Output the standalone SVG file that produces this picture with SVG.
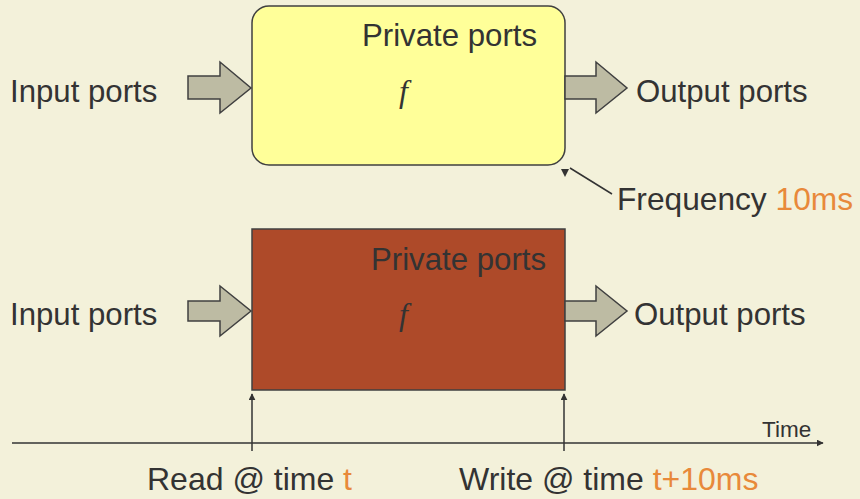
<svg xmlns="http://www.w3.org/2000/svg" width="860" height="499" viewBox="0 0 860 499">
<style>
.t{font-family:"Liberation Sans",Arial,sans-serif;font-size:32px;fill:#333333}
.o{fill:#E8893A}
.f{font-family:"Liberation Serif","Times New Roman",serif;font-style:italic;font-size:32px;fill:#333333}
.arr{fill:#BDBBA3;stroke:#404040;stroke-width:1.5;stroke-linejoin:miter}
.ln{stroke:#333333;stroke-width:1.5;fill:none}
</style>
<defs>
<marker id="ah" viewBox="0 0 10 10" refX="9" refY="5" markerWidth="7" markerHeight="7" orient="auto" markerUnits="userSpaceOnUse">
<path d="M0,0 L10,5 L0,10 Z" fill="#333333"/>
</marker>
</defs>
<rect width="860" height="499" fill="#F3F1DA"/>
<g id="top-node">
<rect x="252" y="6" width="313" height="159" rx="17" fill="#FFFF99" stroke="#404040" stroke-width="1.5"/>
<text class="t" x="362" y="46" style="font-size:31.2px">Private ports</text>
<text class="f" x="399" y="102">f</text>
</g>
<g id="top-input">
<path class="arr" d="M188,76 H220 V62 L251,88 L220,113 V99 H188 Z"/>
<text class="t" x="10" y="102" style="font-size:31.2px">Input ports</text>
</g>
<g id="top-output">
<path class="arr" d="M565,76 H596 V62 L627,88 L596,113 V99 H565 Z"/>
<text class="t" x="636" y="102" style="font-size:31.2px">Output ports</text>
</g>
<g id="frequency">
<text class="t" x="617" y="210" style="font-size:31.7px">Frequency <tspan class="o">10ms</tspan></text>
</g>
<g id="bottom-node">
<rect x="252" y="229" width="313" height="161" fill="#AE4A29" stroke="#404040" stroke-width="1.5"/>
<text class="t" x="371" y="270" style="font-size:31.2px">Private ports</text>
<text class="f" x="399" y="325">f</text>
</g>
<g id="bottom-input">
<path class="arr" d="M188,301 H220 V286 L251,311 L220,336 V321 H188 Z"/>
<text class="t" x="10" y="325" style="font-size:31.2px">Input ports</text>
</g>
<g id="bottom-output">
<path class="arr" d="M565,301 H596 V286 L627,311 L596,336 V321 H565 Z"/>
<text class="t" x="634" y="325" style="font-size:31.2px">Output ports</text>
</g>
<g id="timeline">
<text class="t" x="762" y="437" style="font-size:22.5px">Time</text>
<text class="t" x="147" y="490">Read @ time <tspan class="o">t</tspan></text>
<text class="t" x="459" y="490">Write @ time <tspan class="o">t+10ms</tspan></text>
</g>
<g id="connectors">
<line class="ln" x1="612" y1="194" x2="570" y2="168"/>
<path d="M561,169 L569,169 L565,177 Z" fill="#333333"/>
<line class="ln" x1="12" y1="443" x2="823" y2="443" marker-end="url(#ah)"/>
<line class="ln" x1="252" y1="451" x2="252" y2="394" marker-end="url(#ah)"/>
<line class="ln" x1="564" y1="451" x2="564" y2="394" marker-end="url(#ah)"/>
</g>
</svg>
